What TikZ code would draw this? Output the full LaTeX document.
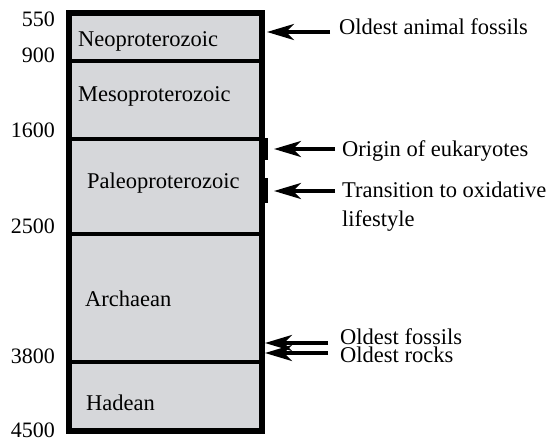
\documentclass[tikz,border=0pt]{standalone}
\usepackage{fontspec}
\setmainfont{Liberation Serif}
\usetikzlibrary{arrows.meta}
\definecolor{eragray}{RGB}{214,215,218}
\begin{document}
\begin{tikzpicture}[x=1pt,y=-1pt,
  era/.style={draw=black, line width=3.8pt, fill=eragray, rectangle, inner sep=0pt, minimum width=191pt, anchor=north west},
  lbl/.style={inner sep=0pt, anchor=base west, font=\fontsize{22.5}{29}\selectfont, align=left},
  num/.style={inner sep=0pt, anchor=base east, font=\fontsize{22}{29}\selectfont},
  arr/.style={line width=4pt, -{Stealth[length=27pt,width=16pt,inset=8pt]}},
  tickbar/.style={line width=4pt}]
\useasboundingbox (0,0) rectangle (551,441);
% era blocks
\node[era, minimum height=47pt]  (neo)   at (68,12)  {};
\node[era, minimum height=78pt]  (meso)  at (68,59)  {};
\node[era, minimum height=95pt]  (paleo) at (68,137) {};
\node[era, minimum height=128pt] (arch)  at (68,232) {};
\node[era, minimum height=68pt]  (had)   at (68,360) {};
\draw[line width=4.5pt] (neo.north west) rectangle (had.south east);
% era names
\node[lbl] (tneo)   at (78,47)  {Neoproterozoic};
\node[lbl] (tmeso)  at (78,102) {Mesoproterozoic};
\node[lbl] (tpaleo) at (87,188) {Paleoproterozoic};
\node[lbl] (tarch)  at (85,306) {Archaean};
\node[lbl] (thad)   at (86,410) {Hadean};
% ages
\node[num] (n550)  at (55,27)  {550};
\node[num] (n900)  at (55,63)  {900};
\node[num] (n1600) at (55,138) {1600};
\node[num] (n2500) at (55,233) {2500};
\node[num] (n3800) at (55,363) {3800};
\node[num] (n4500) at (55,437) {4500};
% events
\node[lbl] (ev1) at (339,35)  {Oldest animal fossils};
\node[lbl] (ev2) at (342,157) {Origin of eukaryotes};
\node[lbl] (ev3) at (342,226) {Transition to oxidative\\lifestyle};
\node[lbl] (ev4) at (340,344) {Oldest fossils};
\node[lbl] (ev5) at (340,362) {Oldest rocks};
% arrow ends
\coordinate (s1) at (330,32);  \coordinate (e1) at (267,32);
\coordinate (s2) at (335,149); \coordinate (e2) at (274,149);
\coordinate (s3) at (335,191); \coordinate (e3) at (274,191);
\coordinate (s4) at (328,343); \coordinate (e4) at (265,343);
\coordinate (s5) at (328,353); \coordinate (e5) at (265,353);
\draw[arr] (s1) -- (e1);
\draw[arr] (s2) -- (e2);
\draw[arr] (s3) -- (e3);
\draw[arr] (s4) -- (e4);
\draw[arr] (s5) -- (e5);
% tick bars
\coordinate (b1a) at (266,138); \coordinate (b1b) at (266,160);
\coordinate (b2a) at (266,178); \coordinate (b2b) at (266,203);
\draw[tickbar] (b1a) -- (b1b);
\draw[tickbar] (b2a) -- (b2b);
\end{tikzpicture}
\end{document}
